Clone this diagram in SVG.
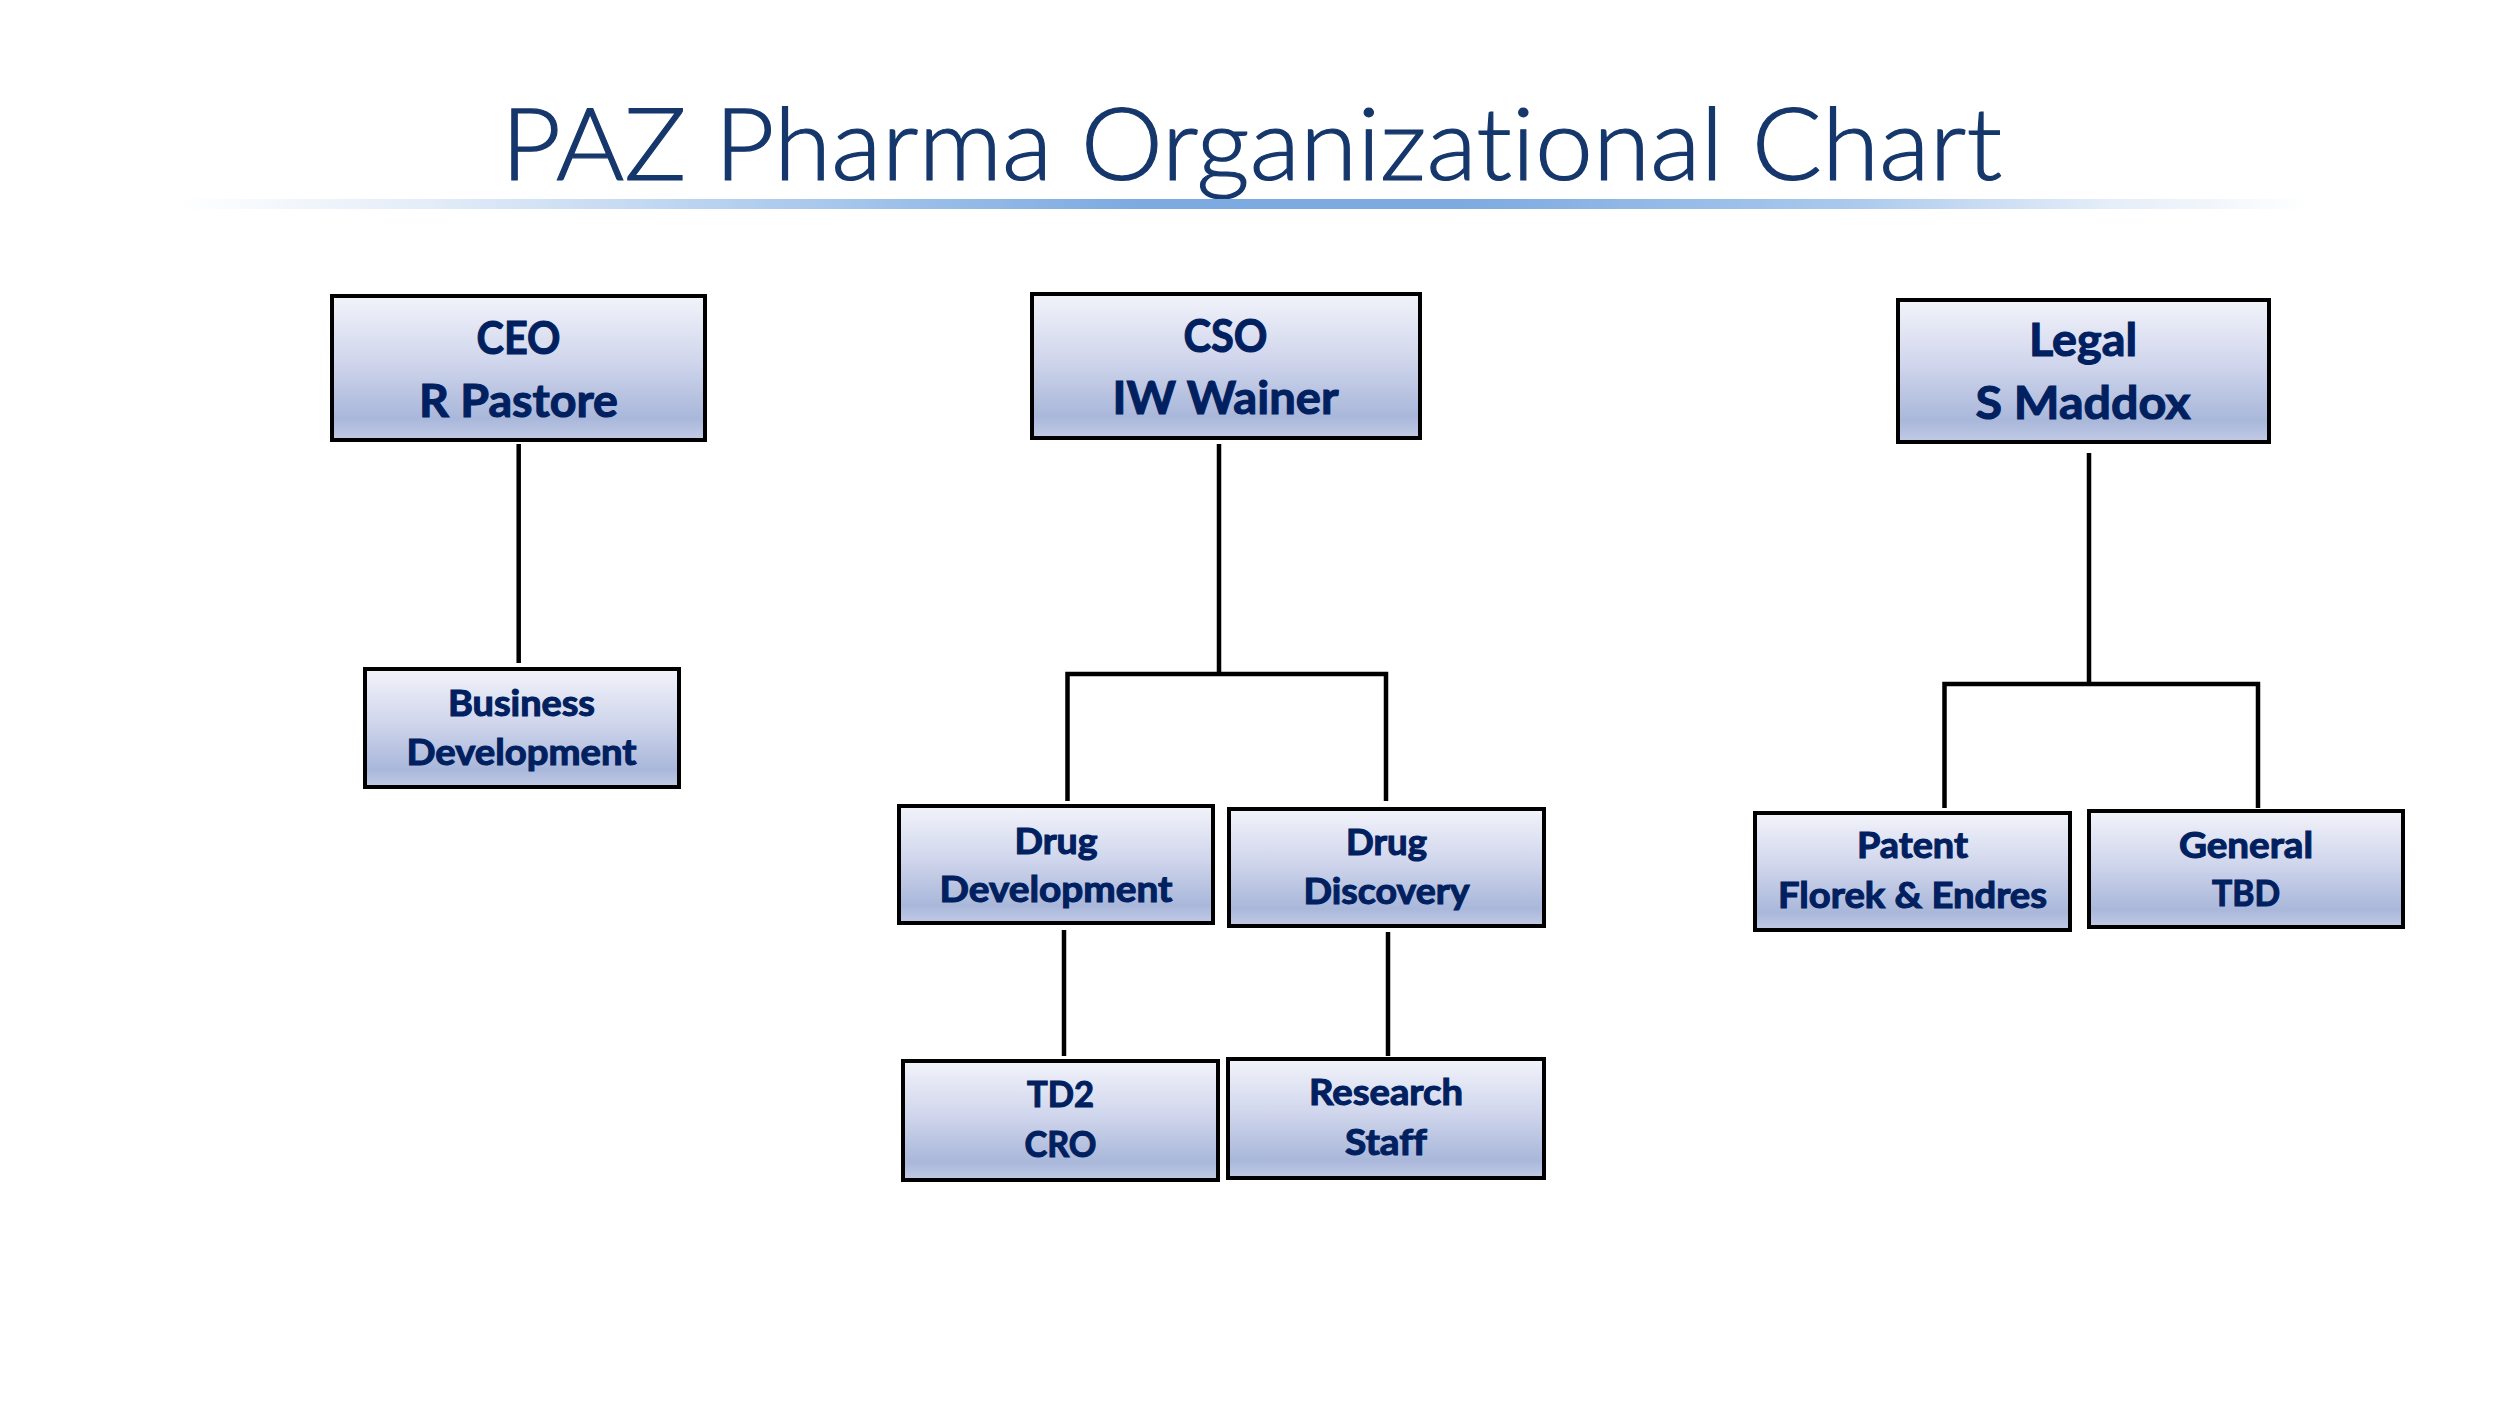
<svg xmlns="http://www.w3.org/2000/svg" width="2500" height="1406" viewBox="0 0 2500 1406">
<defs>
<linearGradient id="boxFill" x1="0" y1="0" x2="0" y2="1">
<stop offset="0" stop-color="#F2F3FA"/>
<stop offset="0.45" stop-color="#D0D6EC"/>
<stop offset="0.85" stop-color="#A9B7DA"/>
<stop offset="1" stop-color="#C2CBE6"/>
</linearGradient>
<linearGradient id="rule" x1="0" y1="0" x2="1" y2="0">
<stop offset="0" stop-color="#FFFFFF"/>
<stop offset="0.12" stop-color="#E3ECF8"/>
<stop offset="0.3" stop-color="#A9C8EC"/>
<stop offset="0.45" stop-color="#7DAAE0"/>
<stop offset="0.6" stop-color="#7DAAE0"/>
<stop offset="0.78" stop-color="#A9C8EC"/>
<stop offset="0.9" stop-color="#E3ECF8"/>
<stop offset="1" stop-color="#FFFFFF"/>
</linearGradient>
</defs>
<style>
.box{fill:url(#boxFill);stroke:#000;stroke-width:4}
.big,.small{font-family:Lato,"Liberation Sans",sans-serif;font-weight:700;fill:#002060;stroke:#002060;stroke-width:1.1;text-anchor:middle;font-variant-ligatures:none}
.big{font-size:46px}
.small{font-size:36px}
.conn{fill:none;stroke:#000;stroke-width:4.5}
.title{font-family:Lato,"Open Sans","Liberation Sans",sans-serif;font-weight:300;font-size:101px;fill:#15376B;stroke:#15376B;stroke-width:1.2;font-variant-ligatures:none}
</style>
<rect width="2500" height="1406" fill="#FFFFFF"/>
<g id="title">
<text class="title" x="501" y="180" textLength="1501" lengthAdjust="spacingAndGlyphs">PAZ Pharma Organizational Chart</text>
<rect x="175" y="199" width="2137" height="10" fill="url(#rule)"/>
</g>
<g id="connectors">
<path class="conn" d="M518.7 444 V663"/>
<path class="conn" d="M1219 444 V674 M1067.5 801 V674 H1386 V801"/>
<path class="conn" d="M1064 930 V1056"/>
<path class="conn" d="M1388 932 V1056"/>
<path class="conn" d="M2089 453 V684 M1944.5 808 V684 H2258 V808"/>
</g>
<g id="ceo">
<rect class="box" x="332" y="296" width="373" height="144"/>
<text class="big" x="518.5" y="354" textLength="84" lengthAdjust="spacingAndGlyphs">CEO</text>
<text class="big" x="518.5" y="416.7" textLength="199" lengthAdjust="spacingAndGlyphs">R Pastore</text>
</g>
<g id="cso">
<rect class="box" x="1032" y="294" width="388" height="144"/>
<text class="big" x="1225.5" y="352" textLength="84" lengthAdjust="spacingAndGlyphs">CSO</text>
<text class="big" x="1225.5" y="414" textLength="226" lengthAdjust="spacingAndGlyphs">IW Wainer</text>
</g>
<g id="legal">
<rect class="box" x="1898" y="300" width="371" height="142"/>
<text class="big" x="2083" y="355.7" textLength="108" lengthAdjust="spacingAndGlyphs">Legal</text>
<text class="big" x="2083" y="418.7" textLength="215" lengthAdjust="spacingAndGlyphs">S Maddox</text>
</g>
<g id="business-development">
<rect class="box" x="365" y="669" width="314" height="118"/>
<text class="small" x="521.5" y="715.6" textLength="147" lengthAdjust="spacingAndGlyphs">Business</text>
<text class="small" x="521.5" y="764.7" textLength="230" lengthAdjust="spacingAndGlyphs">Development</text>
</g>
<g id="drug-development">
<rect class="box" x="899" y="806" width="314" height="117"/>
<text class="small" x="1056" y="854" textLength="83" lengthAdjust="spacingAndGlyphs">Drug</text>
<text class="small" x="1056" y="902" textLength="233" lengthAdjust="spacingAndGlyphs">Development</text>
</g>
<g id="drug-discovery">
<rect class="box" x="1229" y="809" width="315" height="117"/>
<text class="small" x="1386.5" y="855" textLength="81" lengthAdjust="spacingAndGlyphs">Drug</text>
<text class="small" x="1386.5" y="904" textLength="166" lengthAdjust="spacingAndGlyphs">Discovery</text>
</g>
<g id="td2-cro">
<rect class="box" x="903" y="1061" width="315" height="119"/>
<text class="small" x="1060.5" y="1107" textLength="67" lengthAdjust="spacingAndGlyphs">TD2</text>
<text class="small" x="1060.5" y="1156.7" textLength="72" lengthAdjust="spacingAndGlyphs">CRO</text>
</g>
<g id="research-staff">
<rect class="box" x="1228" y="1059" width="316" height="119"/>
<text class="small" x="1386" y="1105" textLength="154" lengthAdjust="spacingAndGlyphs">Research</text>
<text class="small" x="1386" y="1155" textLength="82" lengthAdjust="spacingAndGlyphs">Staff</text>
</g>
<g id="patent">
<rect class="box" x="1755" y="813" width="315" height="117"/>
<text class="small" x="1912.5" y="858" textLength="111" lengthAdjust="spacingAndGlyphs">Patent</text>
<text class="small" x="1912.5" y="907.5" textLength="269" lengthAdjust="spacingAndGlyphs">Florek &amp; Endres</text>
</g>
<g id="general">
<rect class="box" x="2089" y="811" width="314" height="116"/>
<text class="small" x="2246" y="857.5" textLength="134" lengthAdjust="spacingAndGlyphs">General</text>
<text class="small" x="2246" y="906" textLength="68" lengthAdjust="spacingAndGlyphs">TBD</text>
</g>
</svg>
